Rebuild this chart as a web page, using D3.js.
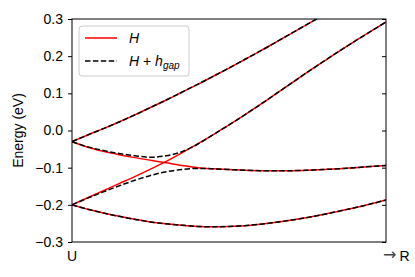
<!DOCTYPE html>
<html>
<head>
<meta charset="utf-8">
<script src="https://cdn.jsdelivr.net/npm/d3@7"></script>
<style>
  body { margin: 0; background: #fff; }
  svg { font-family: "Liberation Sans", Arial, sans-serif; }
</style>
</head>
<body>
<svg width="415" height="277"></svg>
<script>
// k along the path U -> R (fraction of the segment)
var kPath = [0, 0.05, 0.1, 0.15, 0.2, 0.25, 0.3, 0.35, 0.4, 0.45, 0.5,
             0.55, 0.6, 0.65, 0.7, 0.75, 0.8, 0.85, 0.9, 0.95, 1];

// bands of H
var band1 = [-0.03, -0.012, 0.005, 0.023, 0.042, 0.062, 0.082, 0.103, 0.124, 0.146, 0.168,
             0.191, 0.214, 0.238, 0.262, 0.286, 0.31, 0.334, 0.358, 0.382, 0.406];
var band2 = [-0.2, -0.181, -0.162, -0.143, -0.124, -0.104, -0.083, -0.06, -0.036, -0.011, 0.015,
             0.042, 0.07, 0.099, 0.128, 0.157, 0.185, 0.213, 0.24, 0.266, 0.292];
var band3 = [-0.03, -0.045, -0.056, -0.065, -0.073, -0.08, -0.087, -0.094, -0.1, -0.103, -0.105,
             -0.107, -0.108, -0.108, -0.108, -0.107, -0.105, -0.103, -0.1, -0.097, -0.094];
var band4 = [-0.2, -0.212, -0.222, -0.231, -0.239, -0.246, -0.251, -0.255, -0.258, -0.259, -0.258,
             -0.256, -0.252, -0.247, -0.241, -0.234, -0.226, -0.217, -0.208, -0.198, -0.187];

// bands of H + h_gap (the two middle ones avoid the crossing)
var gapUpper = [-0.03, -0.044, -0.054, -0.062, -0.068, -0.072, -0.068, -0.057, -0.037, -0.011, 0.015,
                0.042, 0.07, 0.099, 0.128, 0.157, 0.185, 0.213, 0.24, 0.266, 0.292];
var gapLower = [-0.2, -0.182, -0.165, -0.149, -0.134, -0.121, -0.111, -0.105, -0.102, -0.103, -0.105,
                -0.107, -0.108, -0.108, -0.108, -0.107, -0.105, -0.103, -0.1, -0.097, -0.094];

var yTicks = [-0.3, -0.2, -0.1, 0.0, 0.1, 0.2, 0.3];
var xLabels = ["U", "R"];

var svg = d3.select("svg"),
    margin = {top: 19, right: 29, bottom: 35, left: 72},
    width = +svg.attr("width") - margin.left - margin.right,
    height = +svg.attr("height") - margin.top - margin.bottom;

var x = d3.scaleLinear().domain([0, 1]).range([0, width]);
var y = d3.scaleLinear().domain([-0.3, 0.3]).range([height, 0]);

var g = svg.append("g").attr("transform", "translate(" + margin.left + "," + margin.top + ")");

g.append("clipPath").attr("id", "clip")
  .append("rect").attr("width", width).attr("height", height);

var line = d3.line()
    .x(function (d, i) { return x(kPath[i]); })
    .y(function (d) { return y(d); })
    .curve(d3.curveMonotoneX);

var plot = g.append("g").attr("clip-path", "url(#clip)");

[band1, band2, band3, band4].forEach(function (b) {
  plot.append("path").datum(b)
    .attr("d", line)
    .attr("fill", "none")
    .attr("stroke", "#ff0000")
    .attr("stroke-width", 1.5);
});

[band1, gapUpper, gapLower, band4].forEach(function (b) {
  plot.append("path").datum(b)
    .attr("d", line)
    .attr("fill", "none")
    .attr("stroke", "#000")
    .attr("stroke-width", 1.5)
    .attr("stroke-dasharray", "5.5,2.4");
});

// axes
var yAxis = g.append("g")
    .call(d3.axisLeft(y).tickValues(yTicks).tickSize(4).tickPadding(5).tickFormat(d3.format(".1f")));
yAxis.attr("font-family", null).attr("font-size", 14);
yAxis.select(".domain").remove();
yAxis.selectAll("text").attr("fill", "#000");

var yRight = g.append("g").attr("transform", "translate(" + width + ",0)")
    .call(d3.axisLeft(y).tickValues(yTicks).tickSize(4).tickFormat(""));
yRight.select(".domain").remove();

g.append("rect")
  .attr("width", width).attr("height", height)
  .attr("fill", "none").attr("stroke", "#000").attr("stroke-width", 1);

g.append("text").attr("x", 0).attr("y", height + 19)
  .attr("text-anchor", "middle").attr("font-size", 14).text(xLabels[0]);
var rl = g.append("text").attr("x", width - 3).attr("y", height + 19).attr("font-size", 14);
rl.append("tspan").attr("font-family", "DejaVu Sans").attr("font-size", 16)
  .attr("dy", -1).attr("fill", "#444").text("\u2192");
rl.append("tspan").attr("dx", 3).attr("dy", 1).text(xLabels[1]);

svg.append("text")
  .attr("transform", "translate(23," + (margin.top + height / 2) + ") rotate(-90)")
  .attr("text-anchor", "middle").attr("font-size", 14).text("Energy (eV)");

// legend
var leg = g.append("g").attr("transform", "translate(7,7)");
leg.append("rect").attr("width", 110).attr("height", 50)
  .attr("rx", 3).attr("fill", "#fff").attr("fill-opacity", 0.8)
  .attr("stroke", "#ccc").attr("stroke-width", 1);

leg.append("line").attr("x1", 6).attr("x2", 38).attr("y1", 12).attr("y2", 12)
  .attr("stroke", "#ff0000").attr("stroke-width", 1.5);
leg.append("line").attr("x1", 6).attr("x2", 38).attr("y1", 35).attr("y2", 35)
  .attr("stroke", "#000").attr("stroke-width", 1.5).attr("stroke-dasharray", "5.5,2.4");

leg.append("text").attr("x", 50).attr("y", 17).attr("font-size", 14)
  .attr("font-style", "italic").text("H");
var t2 = leg.append("text").attr("x", 50).attr("y", 40).attr("font-size", 14);
t2.append("tspan").attr("font-style", "italic").text("H");
t2.append("tspan").text(" + ");
t2.append("tspan").attr("font-style", "italic").text("h");
t2.append("tspan").attr("font-style", "italic").attr("font-size", 10).attr("dy", 3).text("gap");
</script>
</body>
</html>
